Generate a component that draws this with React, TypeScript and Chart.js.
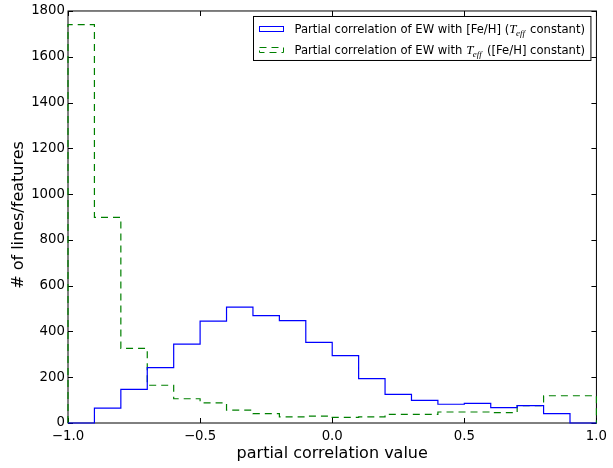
import React, { useEffect, useRef } from "react";
import { Chart, registerables } from "chart.js";

Chart.register(...registerables);

// Histogram bin edges (width 0.1) and counts per bin
const binEdges = [
  -1.0, -0.9, -0.8, -0.7, -0.6, -0.5, -0.4, -0.3, -0.2, -0.1, 0.0,
  0.1, 0.2, 0.3, 0.4, 0.5, 0.6, 0.7, 0.8, 0.9, 1.0,
];
// Partial correlation of EW with [Fe/H] (Teff held constant)
const fehCounts = [
  0, 65, 147, 242, 345, 445, 506, 469, 447, 352,
  294, 194, 125, 99, 82, 86, 67, 76, 41, 0,
];
// Partial correlation of EW with Teff ([Fe/H] held constant)
const teffCounts = [
  1740, 898, 326, 165, 106, 88, 56, 41, 27, 30,
  25, 27, 38, 38, 48, 48, 45, 76, 119, 119,
];
const xTicks = [-1.0, -0.5, 0.0, 0.5, 1.0];
const yTicks = [0, 200, 400, 600, 800, 1000, 1200, 1400, 1600, 1800];

const FONT = "'DejaVu Sans', sans-serif";
const MATH_FONT = "'Liberation Serif', 'DejaVu Serif', serif";
const LEGEND_SIZE = 11.6;
const BLUE = "#0000ff";
const GREEN = "#008000";
const DASH = [7, 5];

// Outline of a step histogram: up from the baseline, across every bin, down at the end
function stepOutline(edges: number[], counts: number[]) {
  const pts = [{ x: edges[0], y: 0 }];
  counts.forEach((c, i) => {
    pts.push({ x: edges[i], y: c });
    pts.push({ x: edges[i + 1], y: c });
  });
  pts.push({ x: edges[edges.length - 1], y: 0 });
  return pts;
}

type Seg = { text: string; math?: boolean };
const legendRows: { color: string; dash: number[]; segs: Seg[] }[] = [
  {
    color: BLUE,
    dash: [],
    segs: [
      { text: "Partial correlation of EW with [Fe/H] (" },
      { text: "T", math: true },
      { text: " constant)" },
    ],
  },
  {
    color: GREEN,
    dash: DASH,
    segs: [
      { text: "Partial correlation of EW with " },
      { text: "T", math: true },
      { text: " ([Fe/H] constant)" },
    ],
  },
];

function segWidth(ctx: CanvasRenderingContext2D, s: Seg) {
  if (s.math) {
    ctx.font = `italic 13px ${MATH_FONT}`;
    const w1 = ctx.measureText(s.text).width;
    ctx.font = `italic 9px ${MATH_FONT}`;
    return w1 + ctx.measureText("eff").width + 1;
  }
  ctx.font = `${LEGEND_SIZE}px ${FONT}`;
  return ctx.measureText(s.text).width;
}

function drawSeg(ctx: CanvasRenderingContext2D, s: Seg, x: number, y: number) {
  if (s.math) {
    ctx.font = `italic 13px ${MATH_FONT}`;
    ctx.fillText(s.text, x, y);
    const w1 = ctx.measureText(s.text).width;
    ctx.font = `italic 9px ${MATH_FONT}`;
    ctx.fillText("eff", x + w1 - 0.5, y + 3);
    return;
  }
  ctx.font = `${LEGEND_SIZE}px ${FONT}`;
  ctx.fillText(s.text, x, y);
}

const framePlugin = {
  id: "frameAndTitles",
  beforeDatasetsDraw(chart: any) {
    const { ctx, chartArea: a } = chart;
    ctx.save();
    ctx.strokeStyle = "#000";
    ctx.lineWidth = 1;
    ctx.strokeRect(a.left, a.top, a.right - a.left, a.bottom - a.top);
    // inward ticks on all four sides
    const len = 5;
    const xs = chart.scales.x;
    const ys = chart.scales.y;
    ctx.beginPath();
    xTicks.forEach((v) => {
      const px = Math.round(xs.getPixelForValue(v)) + 0.5;
      ctx.moveTo(px, a.bottom);
      ctx.lineTo(px, a.bottom - len);
      ctx.moveTo(px, a.top);
      ctx.lineTo(px, a.top + len);
    });
    yTicks.forEach((v) => {
      const py = Math.round(ys.getPixelForValue(v)) + 0.5;
      ctx.moveTo(a.left, py);
      ctx.lineTo(a.left + len, py);
      ctx.moveTo(a.right, py);
      ctx.lineTo(a.right - len, py);
    });
    ctx.stroke();

    // axis titles
    ctx.fillStyle = "#000";
    ctx.font = `16px ${FONT}`;
    ctx.textAlign = "center";
    ctx.textBaseline = "alphabetic";
    ctx.fillText("partial correlation value", (a.left + a.right) / 2, 458);
    ctx.translate(23, (a.top + a.bottom) / 2 - 2);
    ctx.rotate(-Math.PI / 2);
    ctx.fillText("# of lines/features", 0, 0);
    ctx.restore();
  },
  afterDraw(chart: any) {
    const { ctx, chartArea: a } = chart;
    ctx.save();
    const padL = 6;
    const patchW = 24;
    const gap = 11;
    const padR = 6;
    const widths = legendRows.map((r) =>
      r.segs.reduce((acc, s) => acc + segWidth(ctx, s), 0)
    );
    const boxW = padL + patchW + gap + Math.max(...widths) + padR;
    const right = a.right - 5.5;
    const left = Math.round(right - boxW) + 0.5;
    const top = a.top + 5.5;
    const boxH = 44;
    ctx.fillStyle = "#fff";
    ctx.fillRect(left, top, right - left, boxH);
    ctx.strokeStyle = "#000";
    ctx.lineWidth = 1;
    ctx.strokeRect(left, top, right - left, boxH);

    const rowY = [top + 12.5, top + 33.5];
    legendRows.forEach((r, i) => {
      const cy = rowY[i];
      ctx.strokeStyle = r.color;
      ctx.setLineDash(r.dash);
      ctx.strokeRect(left + padL, Math.round(cy - 3) + 0.5, patchW, 5);
      ctx.setLineDash([]);
      ctx.fillStyle = "#000";
      ctx.textAlign = "left";
      ctx.textBaseline = "alphabetic";
      let x = left + padL + patchW + gap;
      r.segs.forEach((s) => {
        drawSeg(ctx, s, x, cy + 4);
        x += segWidth(ctx, s);
      });
    });
    ctx.restore();
  },
};

export default function App() {
  const canvasRef = useRef<HTMLCanvasElement | null>(null);

  useEffect(() => {
    if (!canvasRef.current) return;
    const chart = new Chart(canvasRef.current, {
      type: "line",
      data: {
        datasets: [
          {
            label: "Partial correlation of EW with [Fe/H] (Teff constant)",
            data: stepOutline(binEdges, fehCounts),
            borderColor: BLUE,
            borderWidth: 1.2,
            pointRadius: 0,
            tension: 0,
            fill: false,
            clip: false as any,
          },
          {
            label: "Partial correlation of EW with Teff ([Fe/H] constant)",
            data: stepOutline(binEdges, teffCounts),
            borderColor: GREEN,
            borderWidth: 1.2,
            borderDash: DASH,
            pointRadius: 0,
            tension: 0,
            fill: false,
            clip: false as any,
          },
        ],
      },
      options: {
        animation: false,
        responsive: true,
        maintainAspectRatio: false,
        layout: { padding: { top: 9, right: 12, left: 0, bottom: 0 } },
        plugins: {
          legend: { display: false },
          tooltip: { enabled: false },
        },
        scales: {
          x: {
            type: "linear",
            min: -1,
            max: 1,
            border: { display: false },
            grid: { display: false, drawTicks: false },
            afterBuildTicks: (s: any) => {
              s.ticks = xTicks.map((v) => ({ value: v }));
            },
            afterFit: (s: any) => {
              s.height = 45;
            },
            ticks: {
              color: "#000",
              padding: 6,
              maxRotation: 0,
              font: { family: FONT, size: 13.3 },
              callback: (v: any) => Number(v).toFixed(1).replace("-", "\u2212"),
            },
          },
          y: {
            type: "linear",
            min: 0,
            max: 1800,
            border: { display: false },
            grid: { display: false, drawTicks: false },
            afterBuildTicks: (s: any) => {
              s.ticks = yTicks.map((v) => ({ value: v }));
            },
            afterFit: (s: any) => {
              s.width = 68;
            },
            ticks: {
              color: "#000",
              padding: 3,
              font: { family: FONT, size: 13.3 },
              callback: (v: any) => String(v),
            },
          },
        },
      },
      plugins: [framePlugin],
    });
    return () => chart.destroy();
  }, []);

  return (
    <div
      style={{
        position: "fixed",
        left: 0,
        top: 0,
        width: 613,
        height: 468,
        background: "#fff",
      }}
    >
      <canvas ref={canvasRef} />
    </div>
  );
}
